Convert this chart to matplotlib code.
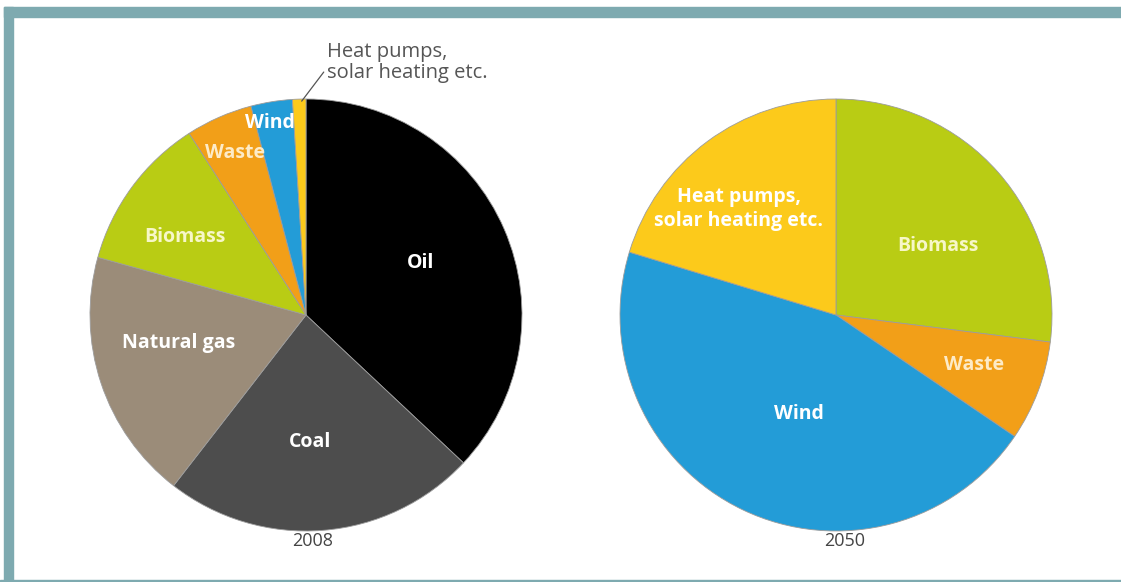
import matplotlib.pyplot as plt
from matplotlib.patches import Rectangle

# --- data (percent of total) ---
years = ['2008', '2050']

sources_2008 = ['Oil', 'Coal', 'Natural gas', 'Biomass', 'Waste', 'Wind', 'Heat pumps,\nsolar heating etc.']
shares_2008 = [37.0, 23.5, 18.8, 11.6, 5.0, 3.1, 1.0]
colors_2008 = ['#000000', '#4d4d4d', '#9b8c79', '#b9cc14', '#f29f18', '#239cd7', '#fcca1b']

sources_2050 = ['Biomass', 'Waste', 'Wind', 'Heat pumps,\nsolar heating etc.']
shares_2050 = [27.0, 7.5, 45.2, 20.3]
colors_2050 = ['#b9cc14', '#f29f18', '#239cd7', '#fcca1b']

# label offsets inside the pies (in pie radius units)
label_pos_2008 = [(0.53, 0.24), (0.02, -0.59), (-0.59, -0.13), (-0.56, 0.36),
                  (-0.33, 0.75), (-0.165, 0.89), None]
label_pos_2050 = [(0.47, 0.32), (0.64, -0.23), (-0.17, -0.46), (-0.45, 0.49)]

plt.rcParams['font.family'] = ['Open Sans', 'DejaVu Sans']

W, H = 1121, 582
fig = plt.figure(figsize=(W / 100, H / 100), dpi=100)
fig.patch.set_facecolor('white')

# frame: thick bar on top and left, thin line at bottom
frame_col = '#7eaab0'
fig.patches.append(Rectangle((3.7 / W, 0), 9.3 / W, 1 - 7.3 / H, transform=fig.transFigure,
                             color=frame_col, zorder=0))
fig.patches.append(Rectangle((3.7 / W, 1 - 16.7 / H), 1, 9.4 / H, transform=fig.transFigure,
                             color=frame_col, zorder=0))
fig.patches.append(Rectangle((0, 0), 1, 2 / H, transform=fig.transFigure,
                             color=frame_col, zorder=0))

R = 216


def pie_axes(cx, cy):
    return fig.add_axes([(cx - R) / W, (H - cy - R) / H, 2 * R / W, 2 * R / H])


def draw_pie(ax, shares, colors, labels, positions):
    ax.pie(shares, colors=colors, startangle=90, counterclock=False, radius=1,
           wedgeprops=dict(edgecolor='#9c9c9c', linewidth=0.6))
    ax.set_xlim(-1.0, 1.0)
    ax.set_ylim(-1.0, 1.0)
    ax.set_aspect('equal')
    ax.axis('off')
    for lab, pos, col in zip(labels, positions, colors):
        if pos is None:
            continue
        tc = '#f7f7c8' if col == '#b9cc14' else ('#fdebc8' if col == '#f29f18' else 'white')
        ax.text(pos[0], pos[1], lab, ha='center', va='center', color=tc,
                fontsize=14, fontweight='bold', linespacing=1.3)


# 2008
ax1 = pie_axes(306, 315)
draw_pie(ax1, shares_2008, colors_2008, sources_2008, label_pos_2008)
ax1.annotate(sources_2008[-1], xy=(-0.02, 0.99), xytext=(0.095, 1.17),
             textcoords='data', ha='left', va='center', color='#555555',
             fontsize=14.5, linespacing=1.05, annotation_clip=False,
             arrowprops=dict(arrowstyle='-', color='#555555', lw=0.9,
                             shrinkA=0, shrinkB=0, relpos=(0, 0.35)))
ax1.text(0.03, -1.045, years[0], ha='center', va='center', color='#444444', fontsize=13)

# 2050
ax2 = pie_axes(836, 315)
draw_pie(ax2, shares_2050, colors_2050, sources_2050, label_pos_2050)
ax2.text(0.04, -1.045, years[1], ha='center', va='center', color='#444444', fontsize=13)

fig.savefig('out.png', dpi=100)
